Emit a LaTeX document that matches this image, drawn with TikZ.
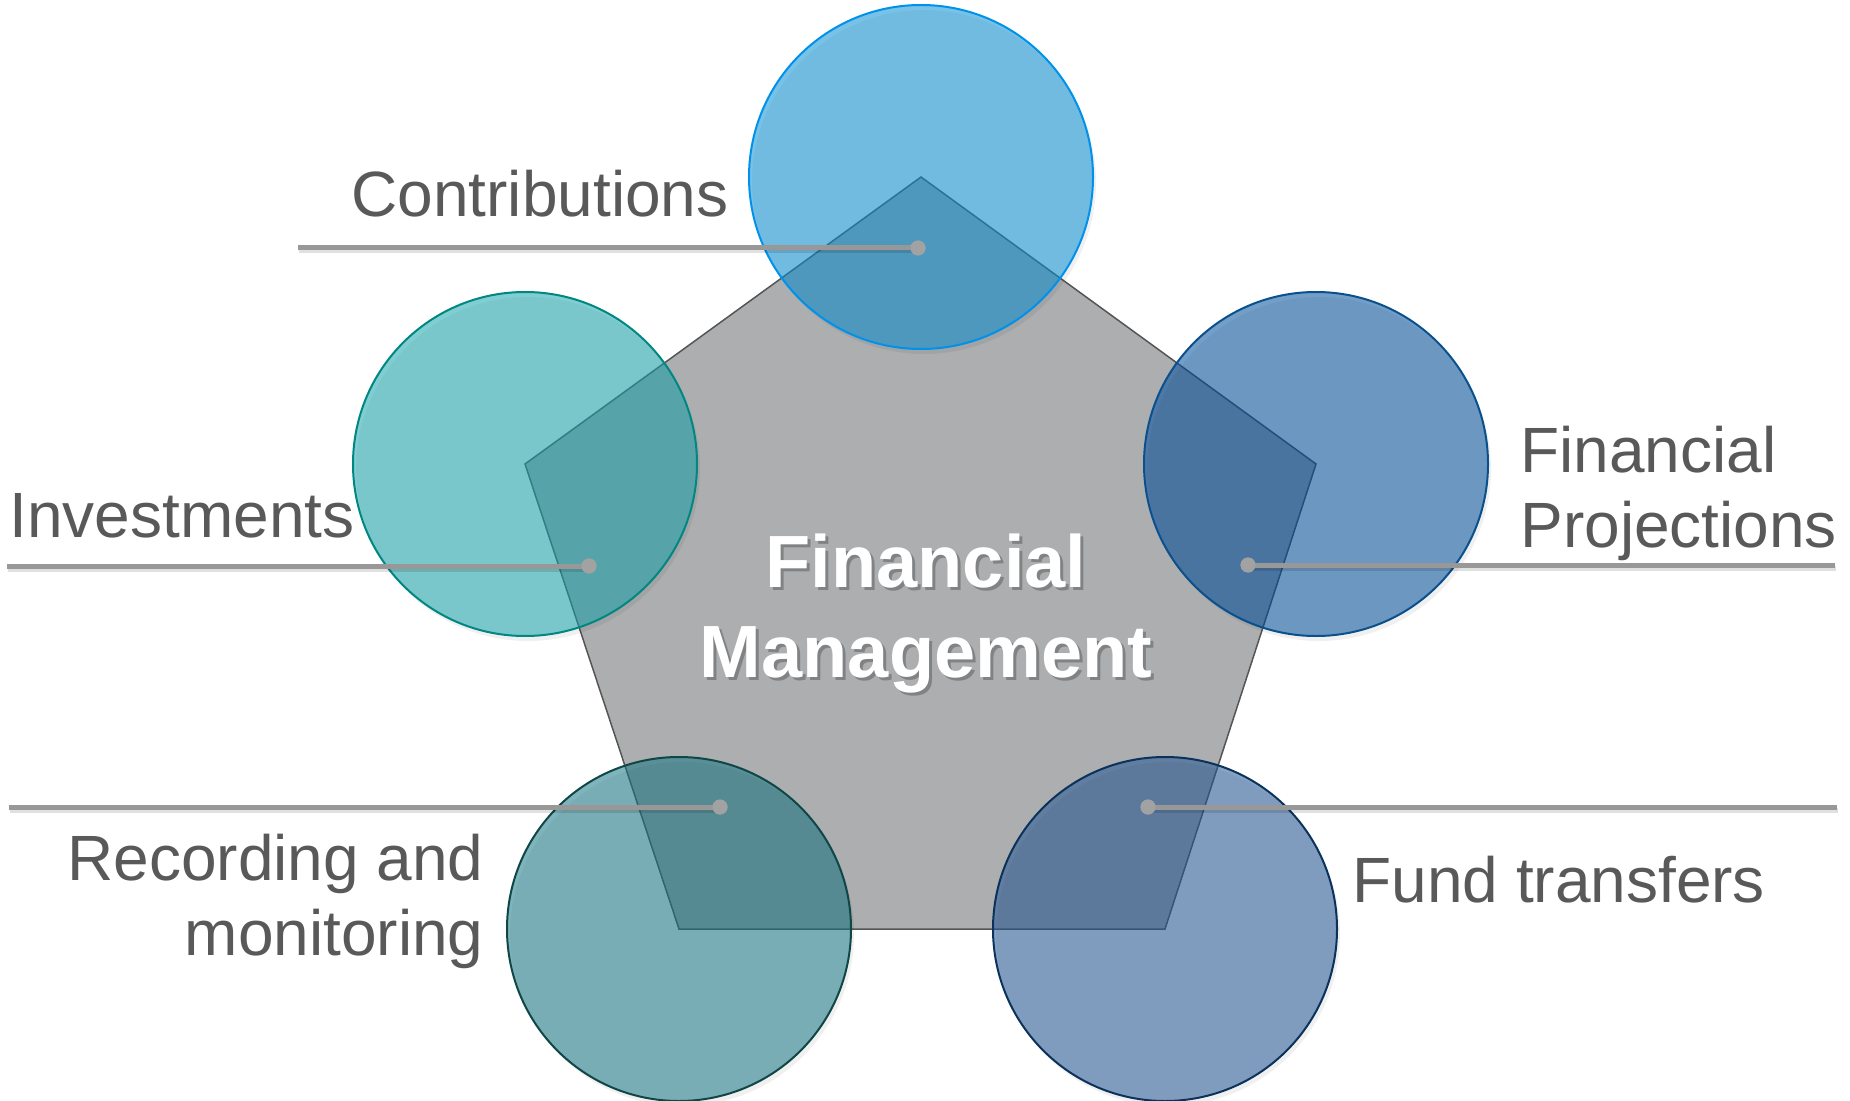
\documentclass[tikz,border=0pt]{standalone}
\usepackage{fontspec}
\setmainfont{Liberation Sans}
\usetikzlibrary{calc}
\definecolor{txtgray}{RGB}{89,89,89}
\definecolor{pentfill}{RGB}{173,174,176}
\definecolor{pentline}{RGB}{85,85,85}
\definecolor{leadgray}{RGB}{152,152,152}
\definecolor{dotgray}{RGB}{162,162,162}
\definecolor{cAfill}{RGB}{10,143,212}
\definecolor{cAline}{RGB}{0,145,235}
\definecolor{cBfill}{RGB}{24,165,173}
\definecolor{cBline}{RGB}{0,135,130}
\definecolor{cCfill}{RGB}{0,78,155}
\definecolor{cCline}{RGB}{10,80,140}
\definecolor{cDfill}{RGB}{24,118,133}
\definecolor{cDline}{RGB}{15,70,70}
\definecolor{cEfill}{RGB}{35,88,150}
\definecolor{cEline}{RGB}{10,50,90}
\tikzset{
  bubble/.style={circle, minimum size=172pt, inner sep=0pt, line width=1pt, fill opacity=0.55},
  leader/.style={draw=leadgray, line width=2.5pt},
  leadshadow/.style={draw=black, opacity=0.12, line width=2.5pt},
  pin/.style={circle, fill=dotgray, minimum size=7.5pt, inner sep=0pt},
  label/.style={text=txtgray, font=\fontsize{32}{37.5}\selectfont, inner sep=0pt},
  title/.style={text=white, font=\fontsize{37}{45}\selectfont\bfseries, inner sep=0pt, align=center}
}
\begin{document}
\begin{tikzpicture}[x=0.5pt,y=-0.5pt]
\useasboundingbox (0,0) rectangle (1850,1101);
% vertices (circle centres)
\coordinate (vA) at (921,177);
\coordinate (vB) at (525,464);
\coordinate (vC) at (1316,464);
\coordinate (vD) at (679,929);
\coordinate (vE) at (1165,929);
% pentagon
\draw[fill=pentfill, draw=pentline, line width=0.75pt, line join=miter]
  (vA) -- (vC) -- (vE) -- (vD) -- (vB) -- cycle;
% shadows of circles
\foreach \v in {vA,vB,vC,vD,vE}
  \fill[black, opacity=0.06] ($(\v)+(3,5)$) circle[radius=172];
% circles
\node[bubble, fill=cAfill, draw=cAline] (cA) at (vA) {};
\node[bubble, fill=cBfill, draw=cBline] (cB) at (vB) {};
\node[bubble, fill=cCfill, draw=cCline] (cC) at (vC) {};
\node[bubble, fill=cDfill, draw=cDline] (cD) at (vD) {};
\node[bubble, fill=cEfill, draw=cEline] (cE) at (vE) {};
% centre title with shadow
\node[title, text=black, opacity=0.25, anchor=base] at (929,680) {Financial\\Management};
\node[title, anchor=base] (title) at (926,677) {Financial\\Management};
% leader end points
\coordinate (eA) at (298,248);
\coordinate (eB) at (7,566);
\coordinate (eC) at (1835,565);
\coordinate (eD) at (9,807);
\coordinate (eE) at (1837,807);
% pins
\node[pin] (pA) at (918,248) {};
\node[pin] (pB) at (589,566) {};
\node[pin] (pC) at (1248,565) {};
\node[pin] (pD) at (720,807) {};
\node[pin] (pE) at (1148,807) {};
% leader shadows
\draw[leadshadow] ($(eA)+(1,3)$) -- ($(pA.center)+(1,3)$);
\draw[leadshadow] ($(eB)+(1,3)$) -- ($(pB.center)+(1,3)$);
\draw[leadshadow] ($(pC.center)+(1,3)$) -- ($(eC)+(1,3)$);
\draw[leadshadow] ($(eD)+(1,3)$) -- ($(pD.center)+(1,3)$);
\draw[leadshadow] ($(pE.center)+(1,3)$) -- ($(eE)+(1,3)$);
% leaders
\draw[leader] (eA) -- (pA.center);
\draw[leader] (eB) -- (pB.center);
\draw[leader] (pC.center) -- (eC);
\draw[leader] (eD) -- (pD.center);
\draw[leader] (pE.center) -- (eE);
% redraw pins on top
\node[pin] at (pA) {};
\node[pin] at (pB) {};
\node[pin] at (pC) {};
\node[pin] at (pD) {};
\node[pin] at (pE) {};
% labels
\node[label, anchor=base east] (lA) at (729,217) {Contributions};
\node[label, anchor=base west] (lB) at (9,537) {Investments};
\node[label, anchor=base west, align=left] (lC) at (1520,547) {Financial\\Projections};
\node[label, anchor=base east, align=right] (lD) at (484,955) {Recording and\\monitoring};
\node[label, anchor=base west] (lE) at (1352,902) {Fund transfers};
\end{tikzpicture}
\end{document}
